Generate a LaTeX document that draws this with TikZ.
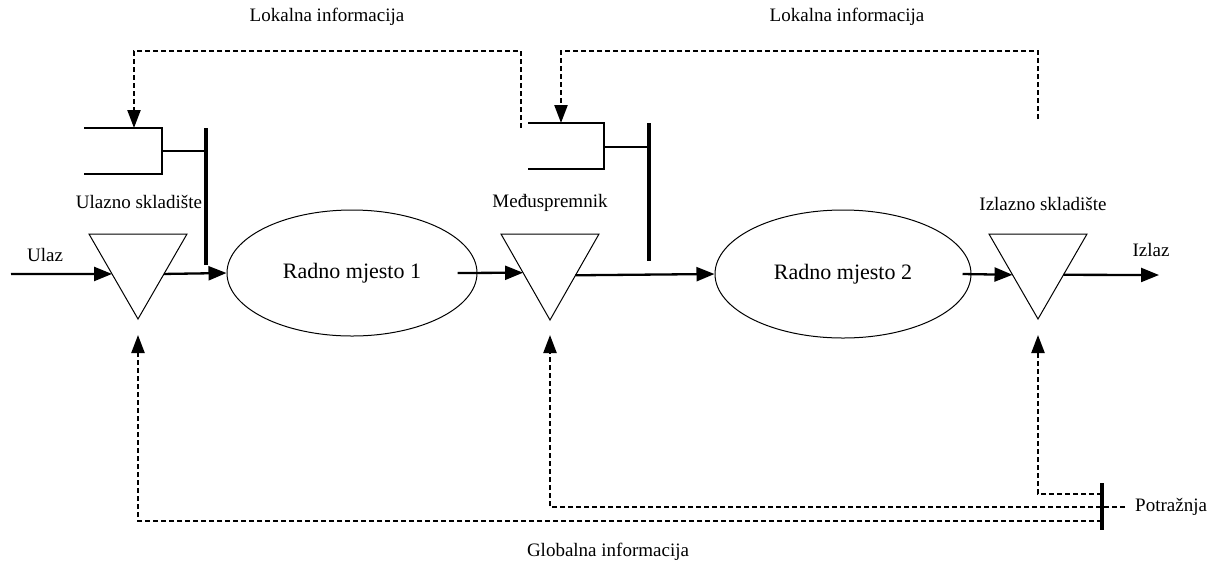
\documentclass[tikz,border=0pt]{standalone}
\usepackage{fontspec}
\setmainfont{Liberation Serif}
\usetikzlibrary{arrows.meta,shapes.geometric,calc}
\tikzset{
  lbl/.style={inner sep=0pt,font=\fontsize{19}{22}\selectfont},
  tri/.style={draw,line width=1pt,line join=miter},
  work/.style={draw,ellipse,line width=1pt,inner sep=0pt,font=\fontsize{22}{26}\selectfont},
  arr/.style={line width=2.3pt,-{Triangle[length=18pt,width=14pt]}},
  darr/.style={line width=2.3pt,dash pattern=on 5pt off 3pt,-{Triangle[length=18pt,width=13pt]}},
  brk/.style={line width=2.3pt},
  bar/.style={line width=3.6pt},
}
\begin{document}
\begin{tikzpicture}[x=1pt,y=-1pt]
\useasboundingbox (0,0) rectangle (1215,566);

% triangles (stores)
\coordinate (A1) at (89,234);  \coordinate (B1) at (187,234);  \coordinate (C1) at (138,319);
\coordinate (A2) at (501,234); \coordinate (B2) at (599,234);  \coordinate (C2) at (550,320);
\coordinate (A3) at (989,234); \coordinate (B3) at (1087,234); \coordinate (C3) at (1038,319);
\draw[tri] (A1) -- (B1) -- (C1) -- cycle;
\draw[tri] (A2) -- (B2) -- (C2) -- cycle;
\draw[tri] (A3) -- (B3) -- (C3) -- cycle;

% work stations
\node[work,minimum width=250pt,minimum height=126pt] (e1) at (352,273) {Radno mjesto 1};
\node[work,minimum width=256pt,minimum height=128pt] (e2) at (843,274) {Radno mjesto 2};

% labels
\node[lbl] (ulazno) at (139,202) {Ulazno skladište};
\node[lbl] (medju) at (550,203) {Međuspremnik};
\node[lbl] (izlazno) at (1043,204) {Izlazno skladište};
\node[lbl] (ulaz) at (45,255) {Ulaz};
\node[lbl] (izlaz) at (1151,250) {Izlaz};
\node[lbl] (lok1) at (327,17) {Lokalna informacija};
\node[lbl] (lok2) at (847,17) {Lokalna informacija};
\node[lbl] (glob) at (608,552) {Globalna informacija};
\node[lbl,anchor=west] (potr) at (1135,507) {Potražnja};

% material flow
\coordinate (in) at (11,274);
\coordinate (out) at (1159,275);
\draw[arr] (in) -- ($(A1)!0.47!(C1)$);
\draw[arr] ($(B1)!0.47!(C1)$) -- (e1.west);
\draw[arr] ([xshift=-20pt]e1.east) -- ($(A2)!0.45!(C2)$);
\draw[arr] ($(B2)!0.48!(C2)$) -- (e2.west);
\draw[arr] ([xshift=-9pt]e2.east) -- ($(A3)!0.48!(C3)$);
\draw[arr] ($(B3)!0.48!(C3)$) -- (out);

% kanban brackets and bars
\coordinate (k1t) at (134,128);
\coordinate (k2t) at (561,123);
\draw[brk] (84,128) -- (162,128) -- (162,174) -- (84,174);
\draw[brk] (162,151) -- (206,151);
\draw[bar] (206,128) -- (206,265);
\draw[brk] (528,123) -- (604,123) -- (604,169) -- (528,169);
\draw[brk] (604,147) -- (649,147);
\draw[bar] (649,123) -- (649,261);

% local information
\coordinate (l1s) at (521,128);
\coordinate (l2s) at (1038,119);
\draw[darr] (l1s) -- (521,51) -- (134,51) -- (k1t);
\draw[darr] (l2s) -- (1038,51) -- (561,51) -- (k2t);

% global information
\coordinate (g1) at (138,335);
\coordinate (g2) at (550,335);
\coordinate (g3) at (1038,335);
\coordinate (barT) at (1102,483);
\coordinate (barB) at (1102,530);
\draw[bar] (barT) -- (barB);
\draw[darr] (1102,494) -- (1038,494) -- (g3);
\draw[darr] (1125,507) -- (550,507) -- (g2);
\draw[darr] (1102,521) -- (138,521) -- (g1);
\end{tikzpicture}
\end{document}
